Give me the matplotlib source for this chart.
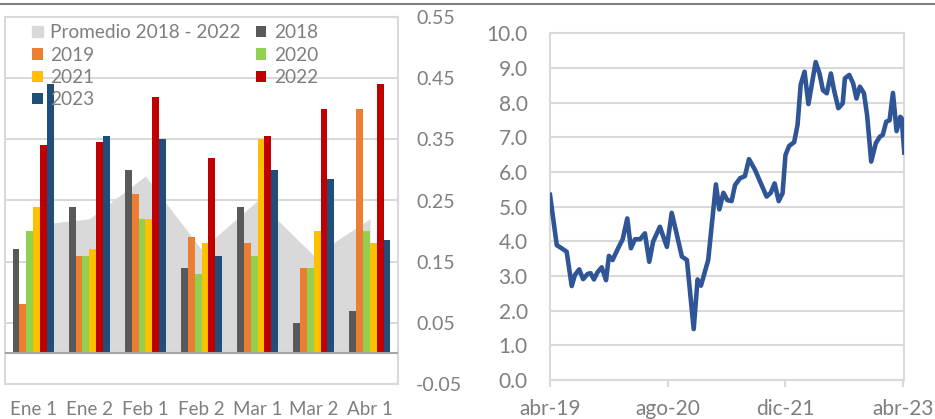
import numpy as np
import pandas as pd
import matplotlib
matplotlib.use("Agg")
import matplotlib.pyplot as plt
from matplotlib.lines import Line2D
from matplotlib.patches import Patch

plt.rcParams['font.family'] = ['Lato', 'DejaVu Sans']

# ---- datos panel izquierdo (quincenas) ----
categorias = ['Ene 1', 'Ene 2', 'Feb 1', 'Feb 2', 'Mar 1', 'Mar 2', 'Abr 1']
promedio = [0.21, 0.22, 0.29, 0.17, 0.25, 0.16, 0.22]
v2018 = [0.17, 0.24, 0.30, 0.14, 0.24, 0.05, 0.07]
v2019 = [0.08, 0.16, 0.26, 0.19, 0.18, 0.14, 0.40]
v2020 = [0.20, 0.16, 0.22, 0.13, 0.16, 0.14, 0.20]
v2021 = [0.24, 0.17, 0.22, 0.18, 0.35, 0.20, 0.18]
v2022 = [0.34, 0.345, 0.42, 0.32, 0.355, 0.40, 0.44]
v2023 = [0.44, 0.355, 0.35, 0.16, 0.30, 0.285, 0.185]

anios = ['2018', '2019', '2020', '2021', '2022', '2023']
colores = ['#595959', '#ED7D31', '#92D050', '#FFC000', '#C00000', '#1F4E79']

# ---- datos panel derecho ----
fechas = ['2019-04-01', '2019-04-29', '2019-05-19', '2019-06-09', '2019-06-30',
          '2019-07-13', '2019-07-31', '2019-08-16', '2019-09-04', '2019-09-16',
          '2019-09-30', '2019-10-14', '2019-11-01', '2019-11-19', '2019-12-01',
          '2019-12-16', '2020-01-08', '2020-01-27', '2020-02-15', '2020-03-01',
          '2020-03-18', '2020-04-08', '2020-04-28', '2020-05-16', '2020-06-01',
          '2020-06-29', '2020-07-28', '2020-08-17', '2020-09-06', '2020-09-28',
          '2020-10-19', '2020-11-16', '2020-12-02', '2020-12-16', '2021-01-15',
          '2021-02-16', '2021-03-02', '2021-03-19', '2021-04-04', '2021-04-22',
          '2021-05-06', '2021-05-27', '2021-06-16', '2021-07-03', '2021-07-28',
          '2021-08-18', '2021-09-14', '2021-10-01', '2021-10-17', '2021-11-03',
          '2021-11-19', '2021-12-01', '2021-12-16', '2022-01-06', '2022-01-20',
          '2022-02-02', '2022-02-18', '2022-03-06', '2022-04-05', '2022-04-21',
          '2022-05-05', '2022-05-21', '2022-06-07', '2022-06-20', '2022-07-08',
          '2022-07-26', '2022-08-04', '2022-08-22', '2022-09-07', '2022-09-21',
          '2022-10-05', '2022-10-22', '2022-11-04', '2022-11-21', '2022-12-10',
          '2022-12-27', '2023-01-08', '2023-01-22', '2023-02-05', '2023-02-19',
          '2023-03-06', '2023-03-21', '2023-03-27', '2023-04-07']
valores = [5.34, 3.89, 3.80, 3.70, 2.71,
           3.03, 3.19, 2.91, 3.06, 3.08,
           2.90, 3.10, 3.25, 2.88, 3.58,
           3.46, 3.80, 4.06, 4.66, 3.80,
           4.06, 4.06, 4.23, 3.41, 3.99,
           4.42, 3.84, 4.82, 4.23, 3.56,
           3.46, 1.47, 2.90, 2.72, 3.46,
           5.64, 4.92, 5.40, 5.19, 5.16,
           5.62, 5.82, 5.88, 6.37, 6.06,
           5.72, 5.29, 5.40, 5.67, 5.16,
           5.39, 6.49, 6.75, 6.86, 7.36,
           8.52, 8.89, 7.96, 9.17, 8.84,
           8.36, 8.27, 8.84, 8.36, 7.84,
           7.98, 8.70, 8.80, 8.56, 8.12,
           8.46, 8.27, 7.64, 6.30, 6.83,
           7.02, 7.07, 7.45, 7.49, 8.28,
           7.18, 7.59, 7.55, 6.56]
ticks_fecha = ['2019-04-01', '2020-08-01', '2021-12-01', '2023-04-01']
ticks_texto = ['abr-19', 'ago-20', 'dic-21', 'abr-23']

gris_txt = '#7F7F7F'
gris_grid = '#D9D9D9'

fig = plt.figure(figsize=(9.35, 4.19), dpi=100)

# línea gris superior
fig.add_artist(Line2D([0, 1], [1 - 4 / 419, 1 - 4 / 419], color='#808080', lw=1.5))

# ================= panel izquierdo =================
ax1 = fig.add_axes([5 / 935, 35 / 419, 393 / 935, 367 / 419])
x = np.arange(len(categorias))
w = 0.122

ax1.fill_between(x, promedio, 0, color='#D9D9D9', lw=0, zorder=1)
series = [v2018, v2019, v2020, v2021, v2022, v2023]
barras = []
for k, (vals, c, a) in enumerate(zip(series, colores, anios)):
    b = ax1.bar(x + (k - 2.5) * w, vals, width=w, color=c, zorder=2, label=a)
    barras.append(b)

ax1.axhline(0, color='#A6A6A6', lw=1.5, zorder=3)
ax1.set_xlim(-0.5, 6.5)
ax1.set_ylim(-0.05, 0.55)
yt = np.arange(-0.05, 0.56, 0.1)
ax1.set_yticks(yt)
ax1.set_yticklabels([f'{v:.2f}' for v in yt])
ax1.yaxis.tick_right()
ax1.yaxis.grid(True, color=gris_grid, lw=1.5, zorder=0)
ax1.set_axisbelow(True)
ax1.set_xticks(x)
ax1.set_xticklabels(categorias)
ax1.tick_params(axis='y', length=0, pad=13, labelsize=14, labelcolor=gris_txt)
ax1.tick_params(axis='x', length=0, pad=12.5, labelsize=13.5, labelcolor=gris_txt)
for s in ax1.spines.values():
    s.set_color(gris_grid)
    s.set_linewidth(1.5)

h_prom = Patch(color='#D9D9D9')
handles = [h_prom, barras[1], barras[3], barras[5], barras[0], barras[2], barras[4]]
labels = ['Promedio 2018 - 2022', '2019', '2021', '2023', '2018', '2020', '2022']
ax1.legend(handles, labels, ncol=2, loc='upper left', bbox_to_anchor=(0.069, 0.98),
           frameon=False, fontsize=13.7, labelcolor=gris_txt, borderpad=0,
           borderaxespad=0, handlelength=0.55, handleheight=0.55, handletextpad=0.4,
           columnspacing=0.8, labelspacing=0.28)

# ================= panel derecho =================
ax2 = fig.add_axes([550 / 935, 39 / 419, 354.3 / 935, 346.7 / 419])
fx = pd.to_datetime(fechas)
ax2.plot(fx, valores, color='#2F5597', lw=3.3, solid_joinstyle='round', zorder=3)
ax2.set_ylim(0, 10)
ax2.set_yticks(np.arange(0, 10.1, 1.0))
ax2.set_yticklabels([f'{v:.1f}' for v in np.arange(0, 10.1, 1.0)])
ax2.set_xlim(pd.Timestamp('2019-04-01'), pd.Timestamp('2023-04-07'))
ax2.set_xticks(pd.to_datetime(ticks_fecha))
ax2.set_xticklabels(ticks_texto)
ax2.yaxis.grid(True, color=gris_grid, lw=1.5, zorder=0)
ax2.tick_params(axis='y', length=0, pad=16, labelsize=15, labelcolor=gris_txt)
ax2.tick_params(axis='x', length=5, width=1.5, color=gris_grid, direction='out',
                pad=9, labelsize=15, labelcolor=gris_txt)
for s in ax2.spines.values():
    s.set_color(gris_grid)
    s.set_linewidth(1.5)

fig.savefig('out.png', dpi=100)
